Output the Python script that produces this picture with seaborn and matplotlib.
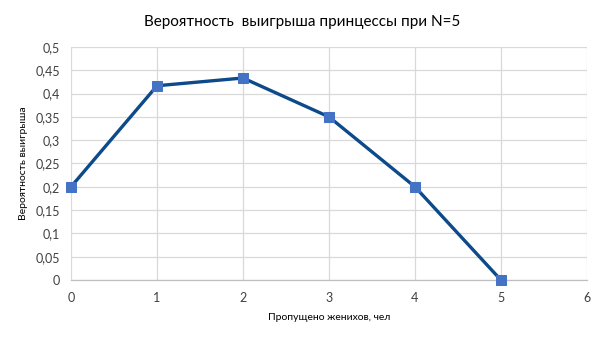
import numpy as np
import pandas as pd
import seaborn as sns
import matplotlib
matplotlib.use("Agg")
import matplotlib.pyplot as plt
from matplotlib.ticker import FuncFormatter, MultipleLocator

# skipped suitors k and win probability for N=5
skipped = [0, 1, 2, 3, 4, 5]
win_prob = [0.2, 0.4167, 0.4333, 0.35, 0.2, 0.0]

title = "Вероятность  выигрыша принцессы при N=5"
xlabel = "Пропущено женихов, чел"
ylabel = "Вероятность выигрыша"

sns.set_theme(style="white")
plt.rcParams["font.family"] = ["Lato", "DejaVu Sans"]

df = pd.DataFrame({"k": skipped, "p": win_prob})

fig = plt.figure(figsize=(6.05, 3.4), dpi=100)
ax = fig.add_axes([0.1174, 0.1765, 0.8526, 0.6855])

sns.lineplot(data=df, x="k", y="p", ax=ax, color="#0D4A8A", linewidth=2.4,
             marker="s", markersize=7, markerfacecolor="#4472C4",
             markeredgecolor="#4472C4", clip_on=False, zorder=3)

ax.set_xlim(0, 6)
ax.set_ylim(0, 0.5)
ax.xaxis.set_major_locator(MultipleLocator(1))
ax.yaxis.set_major_locator(MultipleLocator(0.05))

def comma(v, pos):
    s = f"{v:.2f}".rstrip("0").rstrip(".")
    return s.replace(".", ",")

ax.yaxis.set_major_formatter(FuncFormatter(comma))
ax.xaxis.set_major_formatter(FuncFormatter(lambda v, p: f"{int(round(v))}"))

ax.grid(True, color="#D9D9D9", linewidth=0.9)
for s in ["top", "right", "left"]:
    ax.spines[s].set_visible(False)
ax.spines["bottom"].set_color("#BFBFBF")
ax.spines["bottom"].set_linewidth(0.9)

ax.tick_params(axis="both", length=0, labelsize=9, colors="#404040")
ax.tick_params(axis="y", pad=8)
ax.tick_params(axis="x", pad=9)

ax.set_xlabel(xlabel, fontsize=7.5, color="#000000", labelpad=6)
ax.set_ylabel(ylabel, fontsize=7.5, color="#000000", labelpad=5)
fig.suptitle(title, fontsize=11, color="#000000", y=0.955)

fig.savefig("out.png", dpi=100)
